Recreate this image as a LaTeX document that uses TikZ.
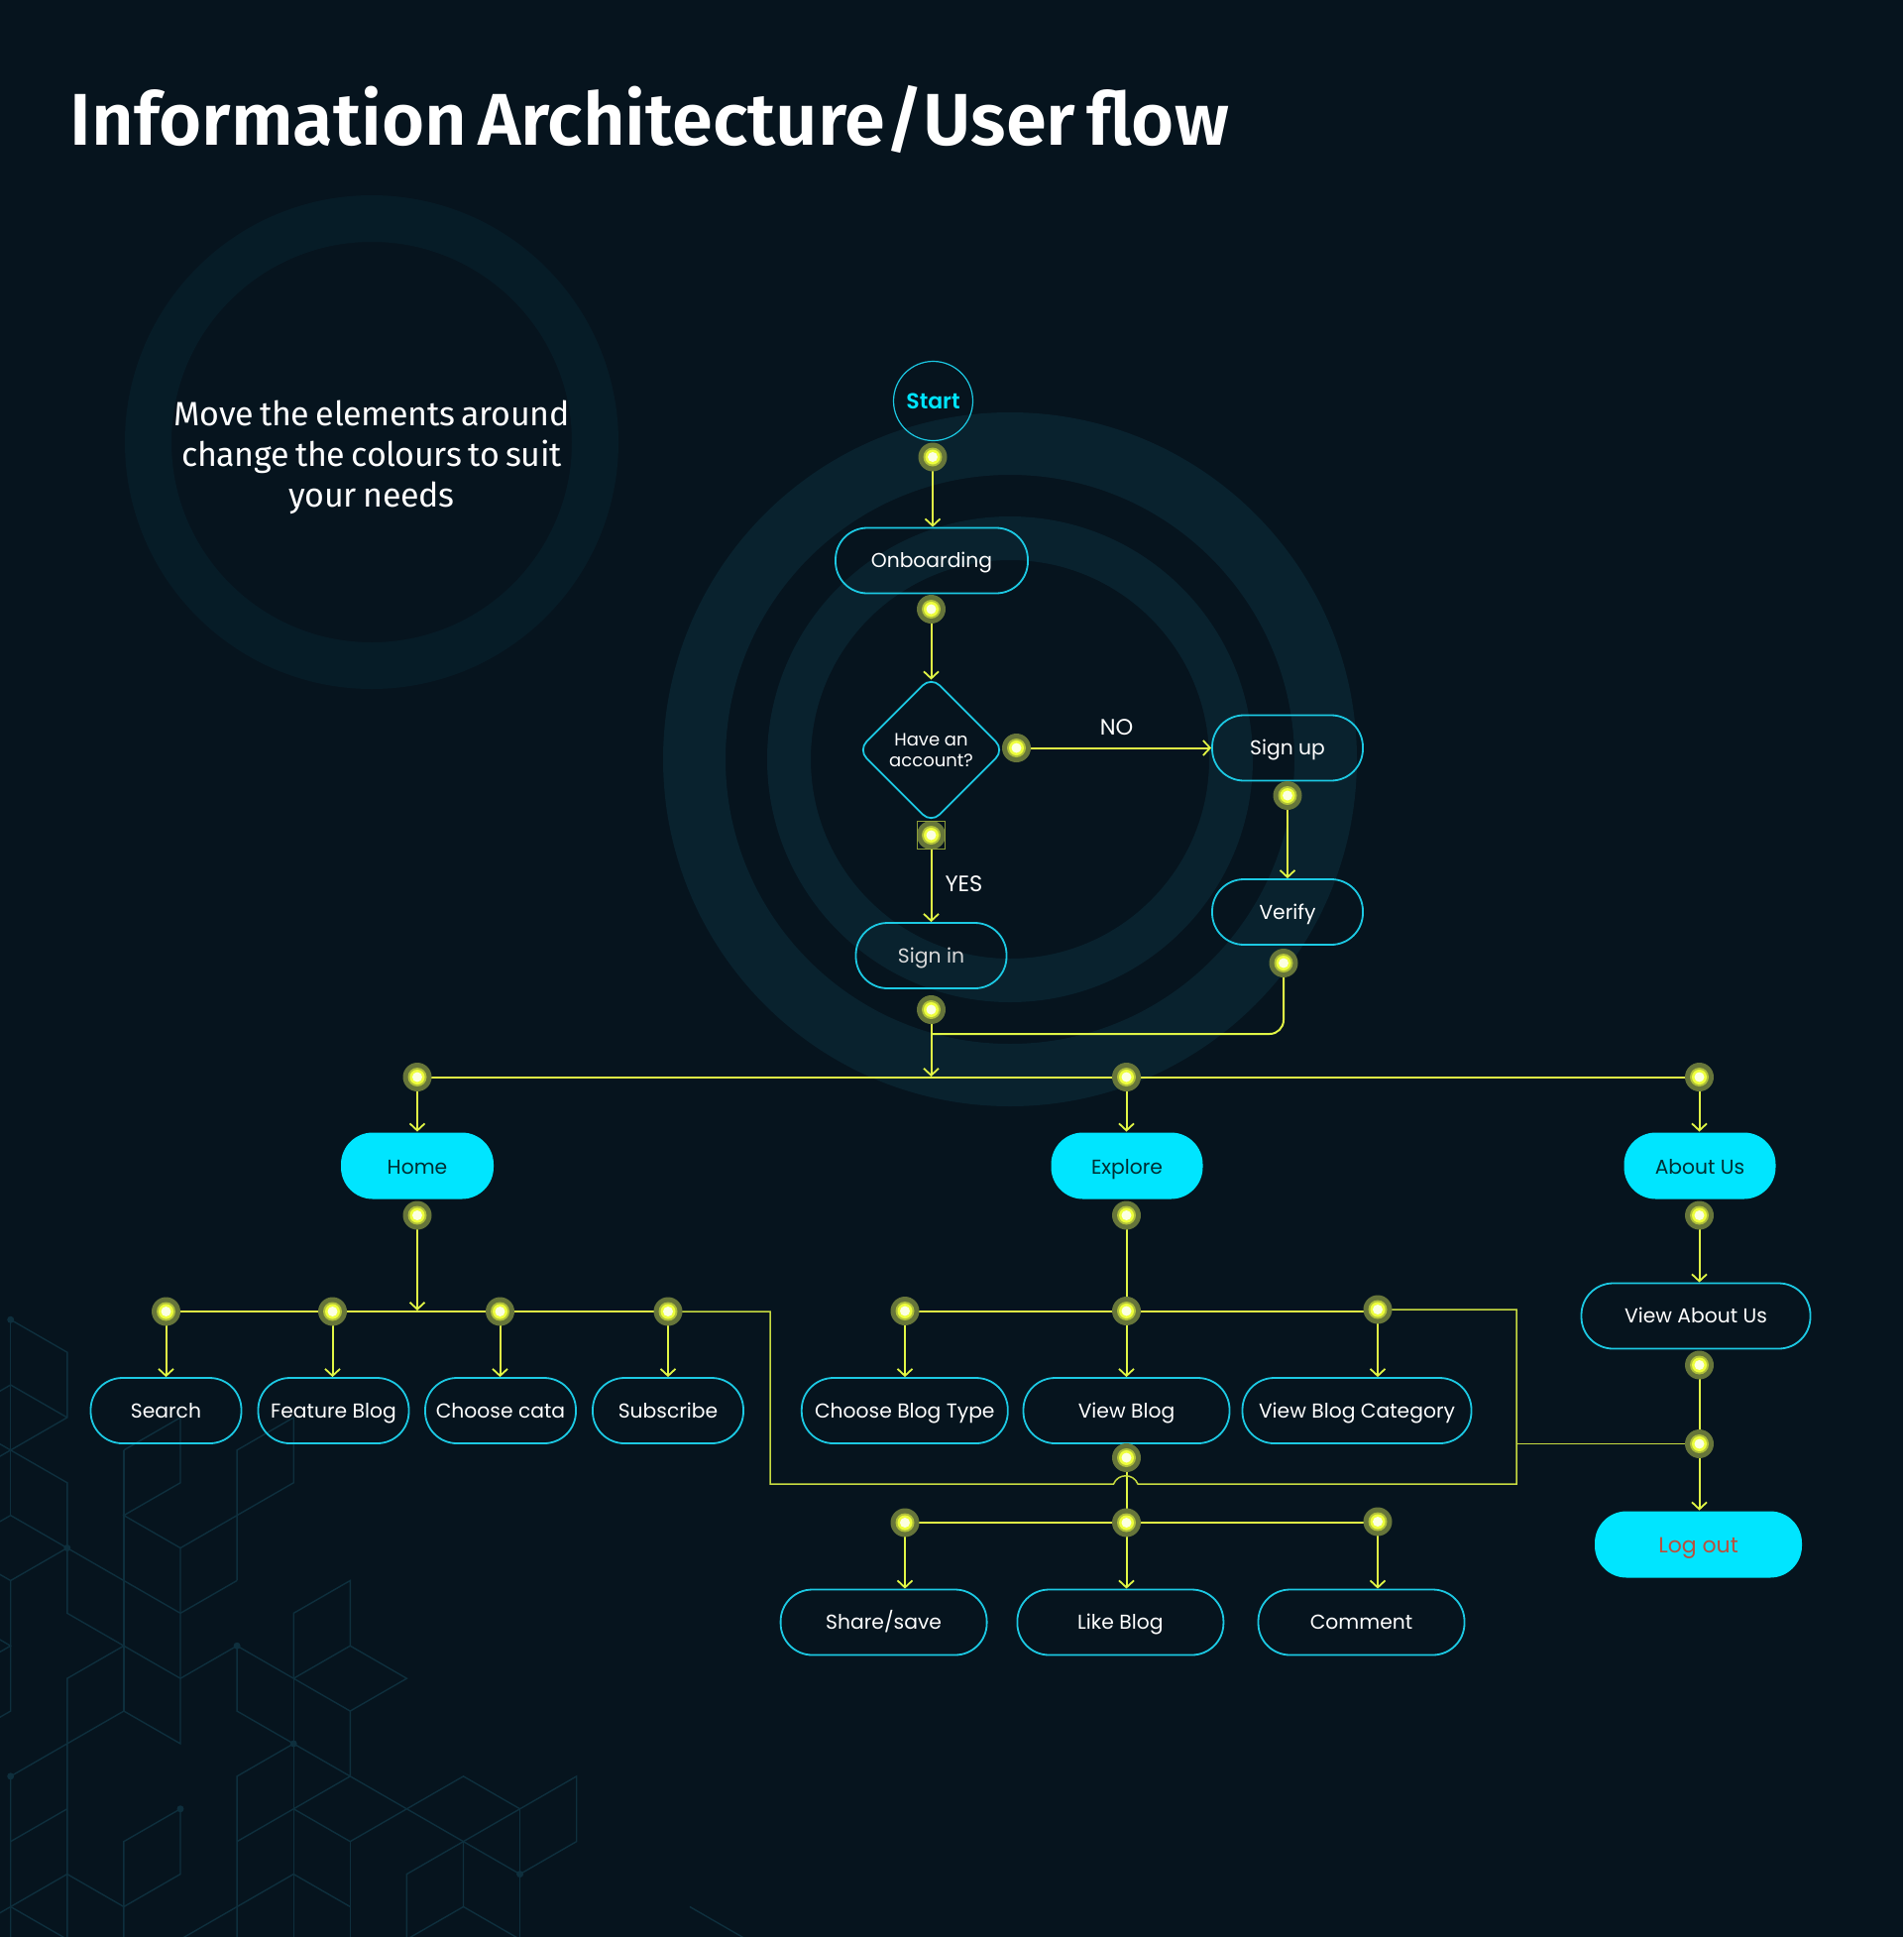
\documentclass[tikz,border=0pt]{standalone}
\usepackage{fontspec}
\setmainfont{Poppins}
\newfontfamily\titlefont{Fira Sans}[UprightFont=* SemiBold,WordSpace=0.6]
\newfontfamily\notefont{Fira Sans}[WordSpace=0.75,LetterSpace=-1]
\newfontfamily\startfont{Poppins}[UprightFont=* SemiBold]
\usetikzlibrary{positioning}
\usetikzlibrary{shapes.geometric,arrows.meta,calc}

\definecolor{pagebg}{HTML}{06141E}
\definecolor{ringdim}{HTML}{061C27}
\definecolor{ringbright}{HTML}{09222E}
\definecolor{hexline}{HTML}{0E2F3D}
\definecolor{boxline}{HTML}{1CC9E3}
\definecolor{boxfill}{HTML}{00E5FF}
\definecolor{flowyellow}{HTML}{E0F545}
\definecolor{wireolive}{HTML}{8D9E38}
\definecolor{dothalo}{HTML}{66753A}
\definecolor{dotcore}{HTML}{EEFF3C}
\definecolor{logoutred}{HTML}{BC4F3C}

\pgfdeclarelayer{backdrop}
\pgfdeclarelayer{flow}
\pgfsetlayers{backdrop,flow,main}

\tikzset{
    pagetext/.style={text=white,align=center,font=\fontsize{20.3}{25}\selectfont},
    flowbox/.style={pagetext,draw=boxline,line width=1.8pt,rounded corners=32pt,
        minimum height=66pt,inner sep=0pt,text height=16pt,text depth=2pt},
    navbox/.style={flowbox,draw=none,fill=boxfill,text=black!80!boxfill,text depth=0pt},
    flowdot/.style={circle,fill=dothalo,minimum size=29pt,inner sep=0pt,
        path picture={
            \fill[dotcore!55!dothalo] (path picture bounding box.center) circle (9.5pt);
            \fill[dotcore] (path picture bounding box.center) circle (7.5pt);
            \fill[white!85!dotcore] (path picture bounding box.center) circle (5pt);
        }},
    flowline/.style={draw=flowyellow,line width=2pt},
    flowarrow/.style={flowline,-{Straight Barb[length=7pt,width=15pt,line width=1.8pt]}},
    wire/.style={draw=flowyellow!70!wireolive,line width=1.5pt},
    hexedge/.style={draw=hexline,line width=1.4pt},
    hexdot/.style={circle,fill=hexline,minimum size=7pt,inner sep=0pt}
}

\begin{document}
\begin{tikzpicture}[x=1pt,y=-1pt]
    \useasboundingbox (0,0) rectangle (1920,1954);

    \begin{pgfonlayer}{backdrop}
    % page and rings
    \fill[pagebg] (0,0) rectangle (1920,1954);
    \fill[ringdim,even odd rule] (375,446) circle (249) circle (202);
    \fill[ringbright,even odd rule] (1019,766) circle (350) circle (287);
    \fill[ringbright,even odd rule] (1019,766) circle (245) circle (201);

    % hexagon pattern
    \begin{scope}[x=57.1pt,y=-32.9pt,shift={(10.7pt,-1331.25pt)}]
        \draw[hexedge] (0,0) -- (1,1) -- (1,3) -- (0,4) -- (-1,5);
        \draw[hexedge] (0,0) -- (0,6);
        \draw[hexedge] (0,2) -- (1,3);
        \draw[hexedge] (0,2) -- (-1,3) -- (0,4) -- (1,5) -- (1,7) -- (0,6) -- (-1,7) -- (0,8) -- (1,7);
        \draw[hexedge] (0,8) -- (0,12) -- (-1,13);
        \draw[hexedge] (-1,9) -- (0,10) -- (-1,11);
        \draw[hexedge] (1,7) -- (2,8) -- (3,9) -- (4,8);
        \draw[hexedge] (1,7) -- (1,9) -- (2,10) -- (3,11) -- (4,10);
        \draw[hexedge] (2,4) -- (3,3) -- (3,5) -- (2,6) -- (3,7) -- (5,5) -- (5,3) -- (4,4) -- (4,8);
        \draw[hexedge] (2,4) -- (2,12);
        \draw[hexedge] (3,7) -- (3,13) -- (2,12) -- (0,14) -- (0,19);
        \draw[hexedge] (2,10) -- (1,11) -- (1,19);
        \draw[hexedge] (0,16) -- (1,15);
        \draw[hexedge] (-1,19) -- (1,17) -- (2,18) -- (3,17) -- (3,15) -- (2,16) -- (2,19);
        \draw[hexedge] (0,18) -- (1,19);
        \draw[hexedge] (4,10) -- (6,12) -- (7,11) -- (6,10) -- (5,11);
        \draw[hexedge] (5,11) -- (5,9) -- (6,8) -- (6,10);
        \draw[hexedge] (5,9) -- (5,19);
        \draw[hexedge] (4,10) -- (4,12) -- (6,14) -- (6,12);
        \draw[hexedge] (5,13) -- (4,14) -- (4,19);
        \draw[hexedge] (6,14) -- (4,16);
        \draw[hexedge] (5,15) -- (6,16) -- (7,15) -- (6,14);
        \draw[hexedge] (6,16) -- (6,19);
        \draw[hexedge] (7,15) -- (9,17) -- (10,16) -- (10,14) -- (9,15) -- (8,14) -- (7,15);
        \draw[hexedge] (9,15) -- (7,17) -- (7,19);
        \draw[hexedge] (9,15) -- (9,19);
        \draw[hexedge] (8,16) -- (8,18) -- (7,19);
        \draw[hexedge] (8,18) -- (9,19);
        \draw[hexedge] (3,19) -- (5,17) -- (6,18);
        \draw[hexedge] (12,18) -- (13,19);
        \node[hexdot] (hexa) at (0,0) {};
        \node[hexdot] (hexb) at (1,7) {};
        \node[hexdot] (hexc) at (4,10) {};
        \node[hexdot] (hexd) at (5,13) {};
        \node[hexdot] (hexe) at (0,14) {};
        \node[hexdot] (hexf) at (3,15) {};
        \node[hexdot] (hexg) at (9,17) {};
    \end{scope}
    \end{pgfonlayer}

    % title and note
    \node[anchor=west,text=white,font=\titlefont\fontsize{74}{88}\selectfont] (title) at (67,120) {Information Architecture/User flow};
    \node[text=white,align=center,font=\notefont\fontsize{34}{41}\selectfont] (note) at (375,461) {Move the elements around\\change the colours to suit\\your needs};

    % onboarding steps
    \node[draw=boxline,line width=1.2pt,circle,minimum size=80pt,inner sep=0pt,text=boxfill,font=\startfont\fontsize{22}{26}\selectfont] (start) at (941.5,404.5) {Start};
    \node[flowbox,minimum width=194pt] (onboarding) at (940,565.5) {Onboarding};
    \node[pagetext,draw=boxline,line width=1.8pt,diamond,rounded corners=12pt,minimum width=148pt,minimum height=148pt,inner sep=0pt,font=\fontsize{18}{21}\selectfont] (account) at (939.5,756.5) {Have an\\account?};
    \node[flowbox,minimum width=152pt] (signup) at (1299,754.5) {Sign up};
    \node[flowbox,minimum width=152pt] (verify) at (1299,920) {Verify};
    \node[flowbox,minimum width=152pt,text=white!85!black] (signin) at (939.5,964) {Sign in};
    \node[pagetext,font=\fontsize{22.5}{26}\selectfont] (nolabel) at (1126.5,733.5) {NO};
    \node[pagetext,font=\fontsize{22.5}{26}\selectfont] (yeslabel) at (972.5,891.5) {YES};

    % main sections
    \node[navbox,minimum width=154pt,minimum height=67pt] (home) at (421,1176) {Home};
    \node[navbox,minimum width=153pt,minimum height=67pt] (explore) at (1137,1176) {Explore};
    \node[navbox,minimum width=153pt,minimum height=67pt] (about) at (1715,1176) {About Us};

    % home children
    \node[flowbox,minimum width=152pt] (search) at (167.5,1423) {Search};
    \node[flowbox,minimum width=152pt] (feature) at (336.5,1423) {Feature Blog};
    \node[flowbox,minimum width=152pt] (choosecata) at (505,1423) {Choose cata};
    \node[flowbox,minimum width=152pt] (subscribe) at (674,1423) {Subscribe};

    % explore children
    \node[flowbox,minimum width=208pt] (blogtype) at (912.8,1423) {Choose Blog Type};
    \node[flowbox,minimum width=208pt] (viewblog) at (1136.5,1423) {View Blog};
    \node[flowbox,minimum width=231pt] (blogcat) at (1369,1423) {View Blog Category};
    \node[flowbox,minimum width=208pt] (share) at (891.6,1636.5) {Share/save};
    \node[flowbox,minimum width=208pt] (like) at (1130.4,1636.5) {Like Blog};
    \node[flowbox,minimum width=208pt] (comment) at (1373.5,1636.5) {Comment};

    % about children
    \node[flowbox,minimum width=231pt] (viewabout) at (1711,1327.5) {View About Us};
    \node[navbox,minimum width=209pt,minimum height=67pt,text=logoutred,font=\fontsize{22}{26}\selectfont] (logout) at (1713.5,1558) {Log out};

    % connector dots
    \node[flowdot] (dstart) at (941,461) {};
    \node[flowdot] (donboard) at (939.5,614.5) {};
    \node[flowdot] (dno) at (1025.5,754.5) {};
    \node[flowdot] (dyes) at (939.5,842.5) {};
    \node[draw=wireolive,line width=1pt,minimum size=28pt,inner sep=0pt] (selbox) at (dyes) {};
    \node[flowdot] (dsignup) at (1299,802.5) {};
    \node[flowdot] (dverify) at (1295,971.5) {};
    \node[flowdot] (dsignin) at (939.5,1018.5) {};
    \node[flowdot] (dhome) at (421,1086.5) {};
    \node[flowdot] (dexplore) at (1136.5,1086.5) {};
    \node[flowdot] (dabout) at (1714.5,1086.5) {};
    \node[flowdot] (dhomeb) at (421,1226) {};
    \node[flowdot] (dexploreb) at (1136.5,1226) {};
    \node[flowdot] (daboutb) at (1714.5,1226) {};
    \node[flowdot] (dsearch) at (167.5,1323) {};
    \node[flowdot] (dfeature) at (335.5,1323) {};
    \node[flowdot] (dcata) at (504.5,1323) {};
    \node[flowdot] (dsubscribe) at (674,1323) {};
    \node[flowdot] (dtype) at (913,1322.5) {};
    \node[flowdot] (dview) at (1136.5,1322.5) {};
    \node[flowdot] (dcat) at (1390,1321) {};
    \node[flowdot] (dviewb) at (1136.5,1470.5) {};
    \node[flowdot] (dshare) at (913,1536) {};
    \node[flowdot] (dlike) at (1136.5,1536) {};
    \node[flowdot] (dcomment) at (1390,1535) {};
    \node[flowdot] (dviewabout) at (1714.5,1377) {};
    \node[flowdot] (dmerge) at (1714.5,1456.5) {};

    % corners of the connectors
    \coordinate (cmerge) at (939.5,1043);
    \coordinate (cbus) at (939.5,1086);
    \coordinate (chome) at (421,1322);
    \coordinate (cleft) at (777,1497);
    \coordinate (jumpa) at (1123.5,1497);
    \coordinate (jumpb) at (1148,1497);
    \coordinate (cright) at (1530,1497);

    \begin{pgfonlayer}{flow}
    % onboarding
    \draw[flowarrow] (dstart.center) -- (dstart.center |- onboarding.north);
    \draw[flowarrow,shorten >=-4pt] (donboard.center) -- (account.north);
    \draw[flowarrow] (dno.center) -- (signup.west);
    \draw[flowarrow] (dyes.center) -- (signin.north);
    \draw[flowarrow] (dsignup.center) -- (verify.north);
    \draw[flowline,rounded corners=14pt] (dverify.center) |- (cmerge);
    \draw[flowarrow] (dsignin.center) -- (cbus);

    % bus and sections
    \draw[flowline] (dhome.center) -- (dabout.center);
    \draw[flowarrow] (dhome.center) -- (home.north);
    \draw[flowarrow] (dexplore.center) -- (dexplore.center |- explore.north);
    \draw[flowarrow] (dabout.center) -- (dabout.center |- about.north);

    % home
    \draw[flowarrow] (dhomeb.center) -- (chome);
    \draw[flowline] (dsearch.center) -- (dsubscribe.center);
    \draw[flowarrow] (dsearch.center) -- (search.north);
    \draw[flowarrow] (dfeature.center) -- (dfeature.center |- feature.north);
    \draw[flowarrow] (dcata.center) -- (dcata.center |- choosecata.north);
    \draw[flowarrow] (dsubscribe.center) -- (subscribe.north);

    % explore
    \draw[flowline] (dexploreb.center) -- (dview.center);
    \draw[flowline] (dtype.center) -- (dview.center) -- (dcat.center |- dview.center);
    \draw[flowarrow] (dtype.center) -- (dtype.center |- blogtype.north);
    \draw[flowarrow] (dview.center) -- (viewblog.north);
    \draw[flowarrow] (dcat.center) -- (dcat.center |- blogcat.north);
    \draw[flowline] (dviewb.center) -- (dlike.center);
    \draw[flowline] (dshare.center) -- (dlike.center) -- (dcomment.center |- dlike.center);
    \draw[flowarrow] (dshare.center) -- (dshare.center |- share.north);
    \draw[flowarrow] (dlike.center) -- (dlike.center |- like.north);
    \draw[flowarrow] (dcomment.center) -- (dcomment.center |- comment.north);

    % about
    \draw[flowarrow] (daboutb.center) -- (daboutb.center |- viewabout.north);
    \draw[flowarrow] (dviewabout.center) -- (dviewabout.center |- logout.north);

    % thin wires to log out
    \draw[wire] (dsubscribe.center) -| (cleft) -- (jumpa) .. controls (1128,1486) and (1143.5,1486) .. (jumpb) -- (cright) |- (dcat.center);
    \draw[wire] (cright |- dmerge) -- (dmerge.center);
    \end{pgfonlayer}
\end{tikzpicture}
\end{document}
